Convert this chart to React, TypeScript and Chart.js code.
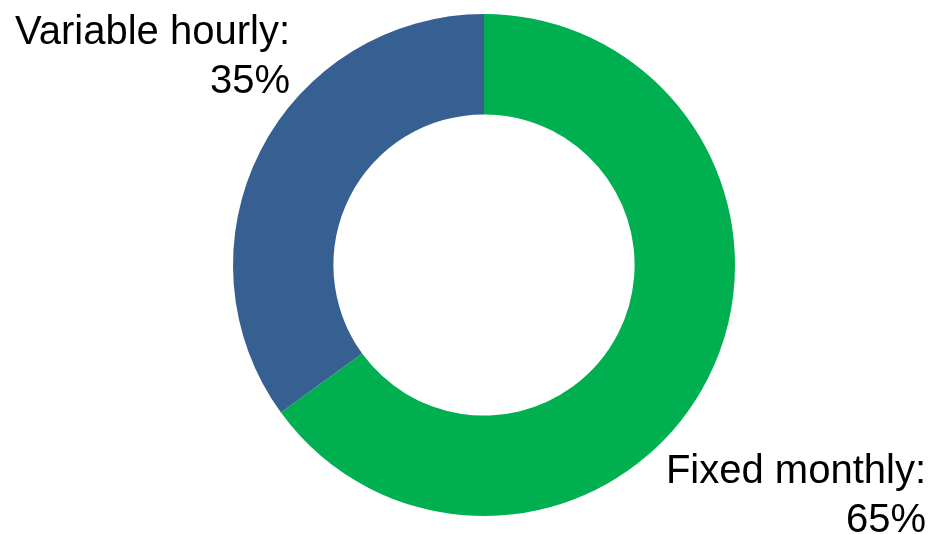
import React, { useEffect, useRef } from "react";
import { Chart, registerables } from "chart.js";

Chart.register(...registerables);

const categories = ["Fixed monthly", "Variable hourly"];
const shares = [65, 35];
const colors = ["#00B050", "#376092"];

const labelPlugin = {
  id: "sliceLabels",
  afterDraw(chart: any) {
    const ctx = chart.ctx;
    const meta = chart.getDatasetMeta(0);
    ctx.save();
    ctx.fillStyle = "#000000";
    ctx.font = "40px 'Liberation Sans', Arial, sans-serif";
    ctx.textAlign = "right";
    ctx.textBaseline = "alphabetic";
    const arc0 = meta.data[0];
    const cx = arc0.x;
    const cy = arc0.y;
    const r = arc0.outerRadius;
    const lineH = 49;
    // label positions relative to ring geometry
    const pos = [
      { x: cx + r + 191, y: cy + 218 },
      { x: cx - r + 57, y: cy - 221 },
    ];
    categories.forEach((c, i) => {
      const p = pos[i];
      ctx.fillText(c + ":", p.x, p.y);
      ctx.fillText(shares[i] + "%", p.x, p.y + lineH);
    });
    ctx.restore();
  },
};

export default function App() {
  const ref = useRef<HTMLCanvasElement | null>(null);
  useEffect(() => {
    document.body.style.margin = "0";
    const chart = new Chart(ref.current!, {
      type: "doughnut",
      data: {
        labels: categories,
        datasets: [
          {
            data: shares,
            backgroundColor: colors,
            borderWidth: 0,
            hoverOffset: 0,
            offset: 0,
          },
        ],
      },
      options: {
        animation: false,
        responsive: false,
        events: [],
        cutout: "60%",
        layout: { padding: { top: 14, bottom: 18, left: 36, right: 0 } },
        plugins: { legend: { display: false }, tooltip: { enabled: false } },
      },
      plugins: [labelPlugin],
    });
    return () => chart.destroy();
  }, []);
  return (
    <div style={{ width: 932, height: 534, background: "#ffffff" }}>
      <canvas ref={ref} width={932} height={534} style={{ display: "block" }} />
    </div>
  );
}
